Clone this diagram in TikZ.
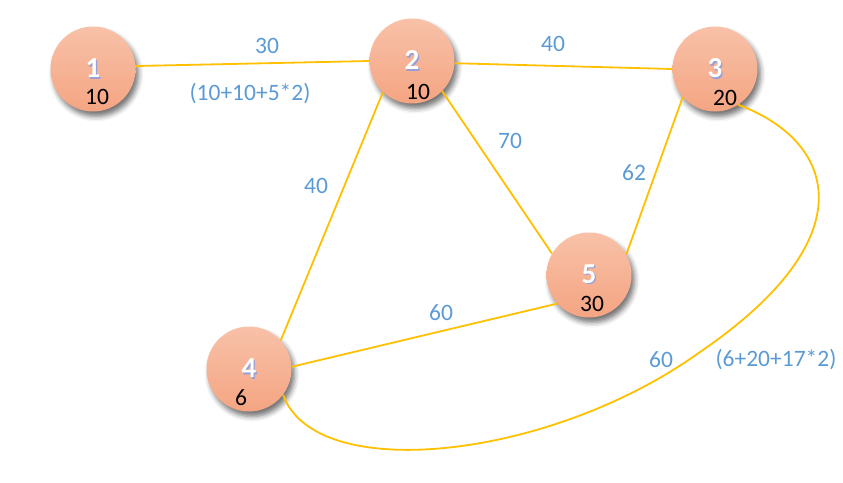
\documentclass[tikz,border=0pt]{standalone}
\usepackage{fontspec}
\setmainfont{Carlito}
\usetikzlibrary{calc, shadows.blur}
\definecolor{edgeyellow}{HTML}{FFC000}
\definecolor{labelblue}{HTML}{5B9BD5}
\definecolor{nodetop}{RGB}{248,193,168}
\definecolor{nodebot}{RGB}{244,165,130}
\definecolor{idshade}{RGB}{150,160,215}
% white vertex number with a faint shade
\newcommand{\idnum}[1]{\rlap{\kern1.3pt\raisebox{-1.3pt}{\textcolor{idshade}{#1}}}\textcolor{white}{#1}}
\begin{document}
\begin{tikzpicture}[x=1pt, y=-1pt,
    vx/.style={circle, minimum size=85pt, inner sep=0pt, top color=nodetop, bottom color=nodebot,
      blur shadow={shadow xshift=3pt, shadow yshift=-5pt, shadow blur radius=5pt, shadow opacity=55},
      font=\fontsize{29}{33}\selectfont\bfseries},
    wt/.style={font=\fontsize{23.5}{27}\selectfont, text=black, inner sep=0pt},
    e/.style={draw=edgeyellow, line width=1.8pt},
    el/.style={font=\fontsize{23.5}{27}\selectfont, text=labelblue, inner sep=0pt}
]
\useasboundingbox (0,0) rectangle (843,482);
% vertices
\node[vx] (n1) at (93,69)   {\idnum{1}};
\node[vx] (n2) at (412,61)  {\idnum{2}};
\node[vx] (n3) at (715,69)  {\idnum{3}};
\node[vx] (n5) at (589,275) {\idnum{5}};
\node[vx] (n4) at (249,369) {\idnum{4}};
% vertex weights
\node[wt] (w1) at ($(n1)+(4,28)$)  {10};
\node[wt] (w2) at ($(n2)+(6,31)$)  {10};
\node[wt] (w3) at ($(n3)+(10,29)$) {20};
\node[wt] (w5) at ($(n5)+(3,29)$)  {30};
\node[wt] (w4) at ($(n4)+(-8,29)$) {6};
% edges
\draw[e] (n1.4) -- (n2.180);
\draw[e] (n2.-3) -- (n3.180);
\draw[e] (n2.-133) -- (n4.42);
\draw[e] (n2.-45) -- (n5.150);
\draw[e] (n3.-139) -- (n5.29);
\draw[e] (n4.3) -- (n5.-138);
\draw[e] (n4.-37) .. controls (315,485) and (550,460) .. (700,352)
                  .. controls (870,236) and (834,140) .. (n3.-57);
% edge labels
\node[el] (l12)  at (267,46)  {30};
\node[el] (l12b) at (250,94)  {(10+10+5*2)};
\node[el] (l23)  at (553,44)  {40};
\node[el] (l25)  at (510,141) {70};
\node[el] (l35)  at (634,173) {62};
\node[el] (l24)  at (316,186) {40};
\node[el] (l45)  at (441,313) {60};
\node[el] (l43)  at (661,360) {60};
\node[el] (l43b) at (776,360) {(6+20+17*2)};
\end{tikzpicture}
\end{document}
